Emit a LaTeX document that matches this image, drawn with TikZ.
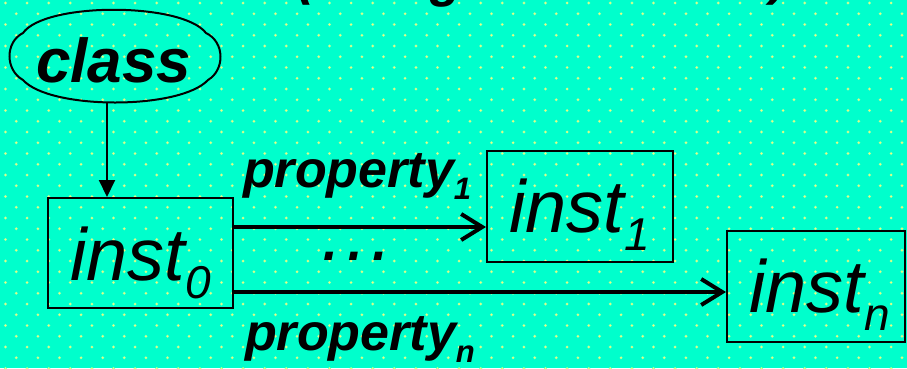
\documentclass[tikz,border=0pt]{standalone}
\usepackage{fontspec}
\setmainfont{Liberation Sans}
\usetikzlibrary{arrows.meta}
\definecolor{bg}{RGB}{0,255,204}
\definecolor{dothalo}{RGB}{150,255,170}
\definecolor{dotc}{RGB}{240,255,120}
\newcommand\fsz[1]{\fontsize{#1}{#1}\selectfont}
\begin{document}
\begin{tikzpicture}[x=1pt,y=-1pt,
  instbox/.style={draw=black, line width=2pt, rectangle, inner sep=0pt},
  lbl/.style={anchor=base west, inner sep=0pt, outer sep=0pt},
  hollow/.style={inner sep=0pt, outer sep=0pt, minimum size=0pt},
  thinarrow/.style={line width=2pt, -{Triangle[length=17pt,width=16pt]}},
  thickarrow/.style={line width=4pt, -{Straight Barb[length=21pt,width=26pt]}},
  cloudline/.style={line width=2pt, line join=miter}
]
\useasboundingbox (0,0) rectangle (907,368);
\clip (0,0) rectangle (907,368);
\fill[bg] (0,0) rectangle (907,368);
% dotted pattern
\foreach \j in {0,...,34}{
  \pgfmathsetmacro\yy{3+10.75*\j}
  \pgfmathsetmacro\xo{5.5+10.8*mod(\j,2)}
  \foreach \i in {0,...,42}{
    \fill[dothalo] (\xo+21.6*\i,\yy) circle (1.6pt);
    \fill[dotc] (\xo+21.6*\i,\yy) circle (0.9pt);
  }
}
% fragments of the line above
\node[lbl] (topa) at (297,-6) {\fsz{52}\bfseries\itshape (};
\node[lbl] (topb) at (430,-4) {\fsz{52}\bfseries\itshape g};
\node[lbl] (topc) at (770,-6) {\fsz{52}\bfseries\itshape )};
% cloud
\draw[cloudline] (23,33) .. controls (45,2) and (182,2) .. (206,33)
  .. controls (225,42) and (225,70) .. (208,80)
  .. controls (180,110) and (50,110) .. (23,80)
  .. controls (5,70) and (5,42) .. cycle;
\node[hollow, minimum width=212pt, minimum height=95pt] (cloud) at (115,56) {};
\node[lbl] (class) at (36,82) {\fsz{62}\bfseries\itshape class};
% instance boxes
\node[instbox, minimum width=185pt, minimum height=110pt] (inst0) at (140.5,253) {};
\node[instbox, minimum width=186pt, minimum height=111pt] (inst1) at (580,206.5) {};
\node[instbox, minimum width=178pt, minimum height=111pt] (instn) at (816,286.5) {};
\node[lbl] (inst0t) at (70,280) {\fsz{74}\itshape inst\raisebox{-18pt}{\fsz{46}0}};
\node[lbl] (inst1t) at (509,232) {\fsz{74}\itshape inst\raisebox{-18pt}{\fsz{46}1}};
\node[lbl] (instnt) at (749,312) {\fsz{74}\itshape inst\raisebox{-18pt}{\fsz{46}n}};
% connectors
\coordinate (cb) at (107,103);
\draw[thinarrow] (cb) -- (cb |- inst0.north);
\coordinate (ya) at (0,227);
\coordinate (yb) at (0,292);
\draw[thickarrow] (ya -| inst0.east) -- (ya -| inst1.west);
\draw[thickarrow] (yb -| inst0.east) -- (yb -| instn.west);
% labels
\node[lbl] (p1) at (243,187) {\fsz{52}\bfseries\itshape property\raisebox{-12pt}{\fsz{31}1}};
\node[lbl] (pn) at (245,350) {\fsz{52}\bfseries\itshape property\raisebox{-12pt}{\fsz{31}n}};
\node[anchor=base, inner sep=0pt] (dots) at (356,260) {\fsz{78}\itshape …};
\end{tikzpicture}
\end{document}
